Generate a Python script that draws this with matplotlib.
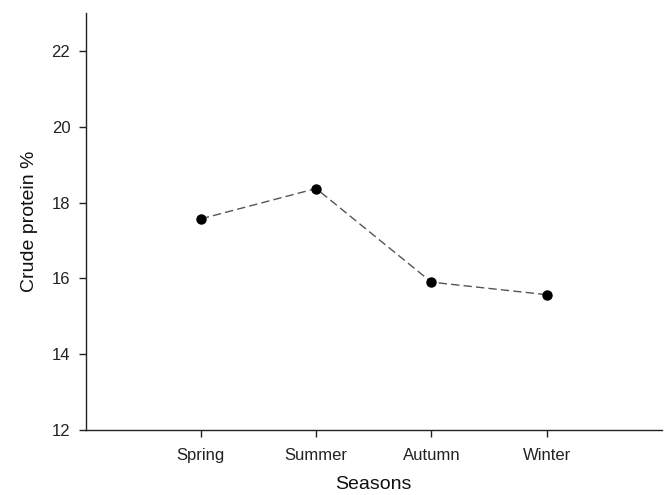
import matplotlib.pyplot as plt

# Datos: proteína cruda por estación
estaciones = ["Spring", "Summer", "Autumn", "Winter"]
posiciones = [1, 2, 3, 4]
proteina = [17.57, 18.37, 15.90, 15.57]
ticks_y = [12, 14, 16, 18, 20, 22]

plt.rcParams["font.family"] = ["Liberation Sans", "DejaVu Sans"]

fig = plt.figure(figsize=(6.69, 4.95), dpi=100)
ax = fig.add_axes([0.128, 0.1313, 0.8615, 0.8424])

ax.plot(posiciones, proteina, linestyle=(0, (6, 3)), color="#555555",
        linewidth=1.0, zorder=2)
ax.plot(posiciones, proteina, linestyle="none", marker="o", markersize=6.5,
        color="black", zorder=3)

ax.set_xlim(0, 5)
ax.set_ylim(12, 23)
ax.set_xticks(posiciones)
ax.set_xticklabels(estaciones)
ax.set_yticks(ticks_y)

for lado in ["top", "right"]:
    ax.spines[lado].set_visible(False)
for lado in ["left", "bottom"]:
    ax.spines[lado].set_color("#222222")
    ax.spines[lado].set_linewidth(1.0)

ax.tick_params(axis="both", direction="out", length=5, width=1,
               color="#222222", labelsize=12, labelcolor="#222222")
ax.tick_params(axis="y", pad=6)
ax.tick_params(axis="x", pad=8)

ax.set_xlabel("Seasons", fontsize=14, color="#111111", labelpad=9)
ax.set_ylabel("Crude protein %", fontsize=14, color="#111111", labelpad=10)

fig.savefig("out.png", dpi=100)
